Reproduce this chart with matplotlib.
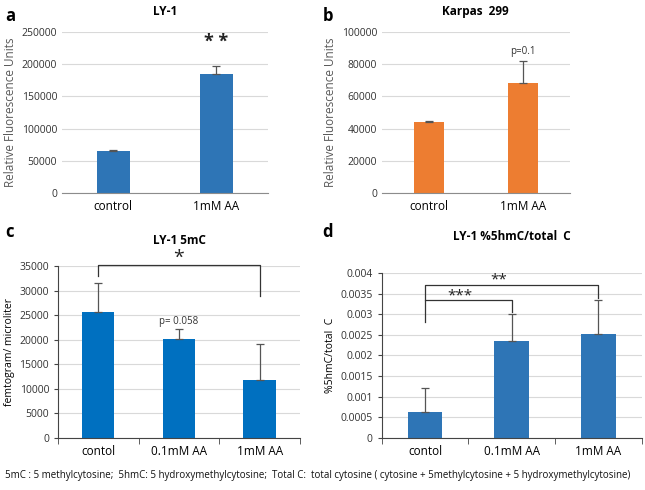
import matplotlib.pyplot as plt

plt.rcParams['font.family'] = ['Open Sans', 'DejaVu Sans']

# panel a: LY-1
a_cats = ['control', '1mM AA']
a_vals = [66000, 184000]
a_errs = [1000, 12500]

# panel b: Karpas 299
b_cats = ['control', '1mM AA']
b_vals = [44000, 68500]
b_errs = [500, 13500]

# panel c: LY-1 5mC
c_cats = ['contol', '0.1mM AA', '1mM AA']
c_vals = [25600, 20200, 11900]
c_errs = [6000, 2000, 7300]

# panel d: LY-1 %5hmC/total C
d_cats = ['contol', '0.1mM AA', '1mM AA']
d_vals = [0.00063, 0.00234, 0.00251]
d_errs = [0.00059, 0.00066, 0.00083]

footnote = ('5mC : 5 methylcytosine;  5hmC: 5 hydroxymethylcytosine;  Total C:  total cytosine '
            '( cytosine + 5methylcytosine + 5 hydroxymethylcytosine)')

fig = plt.figure(figsize=(6.45, 4.90), dpi=100)

def style(ax, ylabel, ylim, ticks, labels, ycol, with_ticks):
    ax.set_ylim(*ylim)
    ax.set_yticks(ticks)
    ax.set_yticklabels(labels, fontsize=7.5, color='#333333')
    ax.set_ylabel(ylabel, fontsize=8.5 if ycol != 'k' else 7.5, color=ycol, labelpad=3)
    ax.grid(axis='y', color='#d9d9d9', lw=0.8)
    ax.set_axisbelow(True)
    for s in ['top', 'right']:
        ax.spines[s].set_visible(False)
    ax.spines['bottom'].set_color('#8c8c8c' if not with_ticks else '#444444')
    if with_ticks:
        ax.spines['left'].set_color('#444444')
        ax.tick_params(axis='y', length=3, color='#444444')
    else:
        ax.spines['left'].set_visible(False)
        ax.tick_params(axis='y', length=0)
    ax.tick_params(axis='x', length=0, labelsize=8.5, pad=5)

def bars(ax, cats, vals, errs, color, width):
    x = range(len(cats))
    ax.bar(x, vals, width=width, color=color, zorder=2)
    ax.errorbar(x, vals, yerr=[[0] * len(errs), errs], fmt='none', ecolor='#555555',
                elinewidth=0.9, capsize=3, capthick=0.9, zorder=3)
    ax.set_xticks(list(x))
    ax.set_xticklabels(cats)
    ax.set_xlim(-0.5, len(cats) - 0.5)

# a
ax = fig.add_axes([0.096, 0.606, 0.319, 0.329])
bars(ax, a_cats, a_vals, a_errs, '#2e75b6', 0.32)
style(ax, 'Relative Fluorescence Units', (0, 250000), range(0, 250001, 50000),
      [str(v) for v in range(0, 250001, 50000)], '#595959', False)
ax.set_title('LY-1', fontsize=8.5, fontweight='bold', pad=12)
ax.text(1, 234000, '* *', ha='center', va='center', fontsize=13, fontweight='bold', color='#222222')
fig.text(0.008, 0.968, 'a', fontsize=12, fontweight='bold', va='center')

# b
ax = fig.add_axes([0.592, 0.606, 0.291, 0.329])
bars(ax, b_cats, b_vals, b_errs, '#ed7d31', 0.32)
style(ax, 'Relative Fluorescence Units', (0, 100000), range(0, 100001, 20000),
      [str(v) for v in range(0, 100001, 20000)], '#595959', False)
ax.set_title('Karpas  299', fontsize=8.5, fontweight='bold', pad=12)
ax.text(1, 88000, 'p=0.1', ha='center', va='center', fontsize=7, color='#333333')
fig.text(0.500, 0.968, 'b', fontsize=12, fontweight='bold', va='center')

# c
ax = fig.add_axes([0.090, 0.106, 0.375, 0.351])
bars(ax, c_cats, c_vals, c_errs, '#0070c0', 0.4)
style(ax, 'femtogram/ microliter', (0, 35000), range(0, 35001, 5000),
      [str(v) for v in range(0, 35001, 5000)], 'k', True)
ax.set_xticks([-0.5, 0.5, 1.5, 2.5], minor=True)
ax.tick_params(axis='x', which='minor', length=4, color='#444444', direction='out')
ax.set_title('LY-1 5mC', fontsize=8.5, fontweight='bold', pad=16)
ax.plot([0, 0, 2, 2], [33000, 35300, 35300, 29000], color='#333333', lw=0.9, clip_on=False)
ax.text(1, 36700, '*', ha='center', va='center', fontsize=14, color='#222222')
ax.text(1, 23800, 'p= 0.058', ha='center', va='center', fontsize=7, color='#333333')
fig.text(0.008, 0.527, 'c', fontsize=12, fontweight='bold', va='center')

# d
ax = fig.add_axes([0.592, 0.106, 0.403, 0.337])
bars(ax, d_cats, d_vals, d_errs, '#2e75b6', 0.4)
dt = [i * 0.0005 for i in range(9)]
style(ax, '%5hmC/total  C', (0, 0.004), dt,
      ['0', '0.0005', '0.001', '0.0015', '0.002', '0.0025', '0.003', '0.0035', '0.004'], 'k', True)
ax.set_xticks([-0.5, 0.5, 1.5, 2.5], minor=True)
ax.tick_params(axis='x', which='minor', length=4, color='#444444', direction='out')
ax.set_title('LY-1 %5hmC/total  C', fontsize=8.5, fontweight='bold', pad=24)
ax.plot([0, 0, 1, 1], [0.0028, 0.00335, 0.00335, 0.00305], color='#333333', lw=0.9, clip_on=False)
ax.plot([0, 0, 2, 2], [0.00335, 0.0037, 0.0037, 0.0034], color='#333333', lw=0.9, clip_on=False)
ax.text(0.4, 0.00343, '***', ha='center', va='center', fontsize=11, color='#222222')
ax.text(0.85, 0.00382, '**', ha='center', va='center', fontsize=11, color='#222222')
fig.text(0.500, 0.527, 'd', fontsize=12, fontweight='bold', va='center')

fig.text(0.008, 0.030, footnote, fontsize=7.0, va='center', color='#111111')

fig.savefig('out.png', dpi=100)
